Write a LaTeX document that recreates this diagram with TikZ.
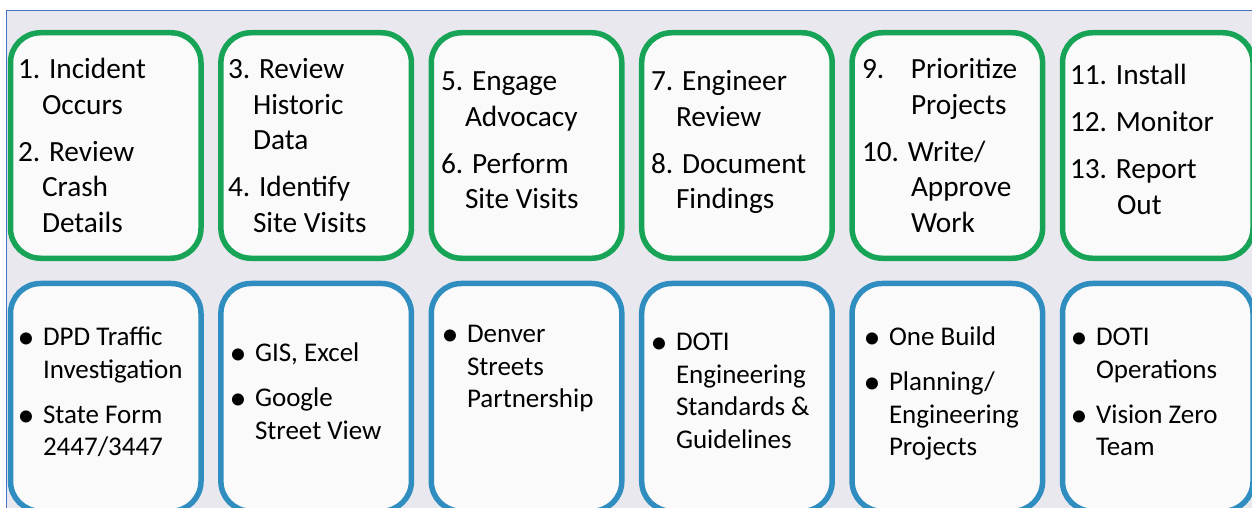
\documentclass[tikz,border=0pt]{standalone}
\usepackage{fontspec}
\setmainfont{Carlito}
\definecolor{bgc}{HTML}{EAE8EF}
\definecolor{frameblue}{HTML}{4472C4}
\definecolor{boxgreen}{HTML}{18A456}
\definecolor{boxblue}{HTML}{2F8EBF}
\definecolor{boxfill}{HTML}{FAFAFA}
\newcommand\topfont{\fontsize{29.3bp}{35.5bp}\selectfont}
\newcommand\botfont{\fontsize{27bp}{32.5bp}\selectfont}
\newcommand\itm[2][24bp]{\par\hangindent=#1\hangafter=1\relax #2}
\newcommand\bitm[1]{\par\leavevmode\llap{\makebox[34bp]{\raisebox{-3bp}{\fontsize{34bp}{34bp}\selectfont\textbullet}}}#1}
\newcommand\topblock[1]{\parbox[t]{190bp}{\topfont\setlength\parskip{11.5bp}#1}}
\newcommand\botblock[1]{\parbox[t]{175bp}{\botfont\setlength\parskip{12.5bp}#1}}
\tikzset{
  panel/.style={draw=frameblue, line width=1.4bp, fill=bgc},
  gbox/.style={draw=boxgreen, line width=5.5bp, fill=boxfill, rounded corners=30bp,
    minimum width=190.5bp, minimum height=225.5bp, inner sep=0pt, anchor=north west},
  bbox/.style={draw=boxblue, line width=5.5bp, fill=boxfill, rounded corners=30bp,
    minimum width=190.5bp, minimum height=227.75bp, inner sep=0pt, anchor=north west},
  txt/.style={inner sep=0pt, outer sep=0pt, anchor=base west}
}
\begin{document}
\begin{tikzpicture}[x=1bp,y=-1bp]
\useasboundingbox (0,0) rectangle (1252,508);
\fill[white] (0,0) rectangle (1252,508);
\draw[panel] (6.5,10.5) rectangle (1270,530);
\foreach \i in {1,...,6}{
  \node[gbox] (g\i) at ({7.75+210.4*(\i-1)},30) {};
  \node[bbox] (b\i) at ({7.75+210.4*(\i-1)},280.75) {};
}
% top texts
\node[txt] (t1) at (18,79) {\topblock{\itm{1. Incident\\Occurs}\itm{2. Review\\Crash\\Details}}};
\node[txt] (t2) at (228,79) {\topblock{\itm[25bp]{3. Review\\Historic\\Data}\itm[25bp]{4. Identify\\Site Visits}}};
\node[txt] (t3) at (441,91) {\topblock{\itm{5. Engage\\Advocacy}\itm{6. Perform\\Site Visits}}};
\node[txt] (t4) at (651,91) {\topblock{\itm[25bp]{7. Engineer\\Review}\itm[25bp]{8. Document\\Findings}}};
\node[txt] (t5) at (862,79) {\topblock{\itm[49bp]{\makebox[49bp][l]{9.}Prioritize\\Projects}\itm[49bp]{10. Write/\\Approve\\Work}}};
\node[txt] (t6) at (1070,85) {\topblock{\itm[47bp]{11. Install}\itm[47bp]{12. Monitor}\itm[47bp]{13. Report\\Out}}};
% bottom texts
\node[txt] (s1) at (43,346) {\botblock{\bitm{DPD Traffic\\Investigation}\bitm{State Form\\2447/3447}}};
\node[txt] (s2) at (255,362) {\botblock{\bitm{GIS, Excel}\bitm{Google\\Street View}}};
\node[txt] (s3) at (467,343) {\botblock{\bitm{Denver\\Streets\\Partnership}}};
\node[txt] (s4) at (676,351) {\botblock{\bitm{DOTI\\Engineering\\Standards \&\\Guidelines}}};
\node[txt] (s5) at (889,346) {\botblock{\bitm{One Build}\bitm{Planning/\\Engineering\\Projects}}};
\node[txt] (s6) at (1096,346) {\botblock{\bitm{DOTI\\Operations}\bitm{Vision Zero\\Team}}};
\end{tikzpicture}
\end{document}
